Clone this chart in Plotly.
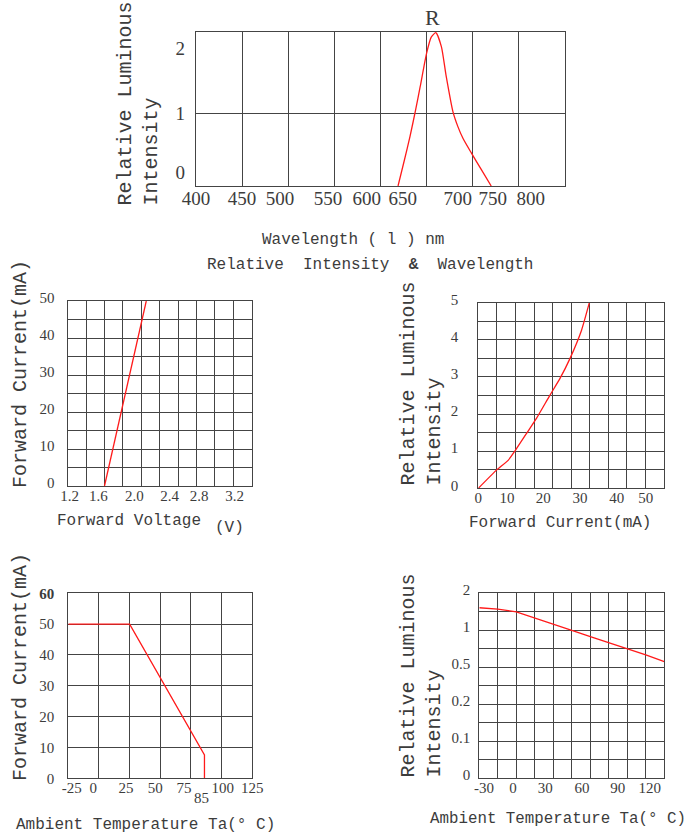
import plotly.graph_objects as go
import numpy as np

W, H = 688, 837

# ---------------- data ----------------
# Chart 1: Relative intensity vs wavelength (R)
wl_nm = [619, 626, 632, 638, 643, 650, 655, 660, 666, 671, 678.5, 684, 689.5, 698.6, 709.5, 720]
wl_rel = [0, 0.36, 0.68, 1.04, 1.36, 1.82, 2.04, 2.10, 1.91, 1.52, 1.02, 0.81, 0.65, 0.45, 0.22, 0]
wl_tick_text = ["400", "450", "500", "550", "600", "650", "700", "750", "800"]
wl_rel_tick_text = ["0", "1", "2"]

# Chart 2: Forward current vs forward voltage
vf_volt = [1.60, 1.83, 2.054]
vf_ma = [0, 25, 50]
vf_tick_text = ["1.2", "1.6", "2.0", "2.4", "2.8", "3.2"]
vf_ma_tick_text = ["0", "10", "20", "30", "40", "50"]

# Chart 3: Relative luminous intensity vs forward current
if_ma = [0, 4.9, 8.1, 9.9, 13.0, 15.7, 19.3, 22.0, 24.7, 27.8, 29.9]
if_rel = [0, 0.49, 0.76, 1.01, 1.48, 1.89, 2.51, 2.96, 3.50, 4.26, 5.0]
if_tick_text = ["0", "10", "20", "30", "40", "50"]
if_rel_tick_text = ["0", "1", "2", "3", "4", "5"]

# Chart 4: Forward current derating vs ambient temperature
ta_c = [-25, 25, 86, 86]
ta_ma = [50, 50, 7.6, 0]
ta_tick_text = ["-25", "0", "25", "50", "75", "100", "125"]
ta_ma_tick_text = ["0", "10", "20", "30", "40", "50", "<b>60</b>"]

# Chart 5: Relative luminous intensity vs ambient temperature
tr_c = [-30, -15, 0, 15, 30, 45, 60, 75, 90, 105, 120]
tr_rel = [1.61, 1.57, 1.50, 1.34, 1.16, 1.00, 0.914, 0.833, 0.748, 0.667, 0.577]
tr_tick_text = ["-30", "0", "30", "60", "90", "120"]
tr_rel_tick_values = [0, 0.1, 0.2, 0.5, 1, 2]
tr_rel_tick_text = ["0", "0.1", "0.2", "0.5", "1", "2"]

# ---------------- layout helpers ----------------
GRID = "#444444"
TXT = "#3c3c3c"
RED = "#ff1a1a"
MONO = "Liberation Mono"
SERIF = "Liberation Serif"


def dom_x(a, b):
    return [a / W, b / W]


def dom_y(top, bottom):
    return [1 - bottom / H, 1 - top / H]


def xax(domain, rng, tickvals, ticktext, tick0, dtick, anchor, size=15, standoff=-4, shift=0, minor_vals=None):
    minor = dict(showgrid=True, gridcolor=GRID, gridwidth=1.3, ticks="")
    if minor_vals is not None:
        minor.update(tickmode="array", tickvals=minor_vals)
    else:
        minor.update(tickmode="linear", tick0=tick0, dtick=dtick)
    return dict(domain=domain, range=rng, anchor=anchor, tickmode="array",
                tickvals=tickvals, ticktext=ticktext, showgrid=False, zeroline=False,
                showline=True, mirror=True, linecolor=GRID, linewidth=1.3, ticks="",
                ticklabelstandoff=standoff, ticklabelshift=shift, automargin=False,
                tickfont=dict(family=SERIF, size=size, color=TXT), minor=minor,
                fixedrange=True)


fig = go.Figure()

# chart 1
fig.add_trace(go.Scatter(x=wl_nm, y=wl_rel, mode="lines", line=dict(color=RED, width=1.3, shape="spline", smoothing=0.6),
                         xaxis="x", yaxis="y", showlegend=False, hoverinfo="skip"))
# chart 2
fig.add_trace(go.Scatter(x=vf_volt, y=vf_ma, mode="lines", line=dict(color=RED, width=1.3),
                         xaxis="x2", yaxis="y2", showlegend=False, hoverinfo="skip"))
# chart 3
fig.add_trace(go.Scatter(x=if_ma, y=if_rel, mode="lines", line=dict(color=RED, width=1.3, shape="spline", smoothing=0.5),
                         xaxis="x3", yaxis="y3", showlegend=False, hoverinfo="skip"))
# chart 4
fig.add_trace(go.Scatter(x=ta_c, y=ta_ma, mode="lines", line=dict(color=RED, width=1.3),
                         xaxis="x4", yaxis="y4", showlegend=False, hoverinfo="skip"))
# chart 5 (non-linear y scale: labelled values are equally spaced)
tr_pos = np.interp(tr_rel, tr_rel_tick_values, list(range(len(tr_rel_tick_values))))
fig.add_trace(go.Scatter(x=tr_c, y=tr_pos, mode="lines", line=dict(color=RED, width=1.3),
                         xaxis="x5", yaxis="y5", showlegend=False, hoverinfo="skip"))

layout = dict(template="none", width=W, height=H, margin=dict(l=0, r=0, t=0, b=0, pad=0), autosize=False,
              paper_bgcolor="white", plot_bgcolor="white", showlegend=False)

# chart 1 axes
layout["xaxis"] = xax(dom_x(196, 565), [400, 800],
                      [400, 449.8, 491.0, 543.0, 585.2, 624.2, 683.8, 721.7, 762.9], wl_tick_text,
                      400, 50, "y", size=19, standoff=-5)
layout["yaxis"] = xax(dom_y(32, 186), [0, 2.11], [0.19, 1.0, 1.88], wl_rel_tick_text,
                      0, 1, "x", size=19, standoff=6, minor_vals=[1])
# chart 2 axes
layout["xaxis2"] = xax(dom_x(67.7, 251.7), [1.2, 3.2],
                       [1.222, 1.533, 1.926, 2.309, 2.629, 3.013], vf_tick_text, 1.2, 0.2, "y2")
layout["yaxis2"] = xax(dom_y(301, 486), [0, 50], [0, 10, 20, 30, 40, 50], vf_ma_tick_text,
                       0, 5, "x2", standoff=9, shift=-3)
# chart 3 axes
layout["xaxis3"] = xax(dom_x(478.3, 664), [0, 50],
                       [0, 7.73, 17.5, 27.38, 37.26, 45.1], if_tick_text, 0, 5, "y3")
layout["yaxis3"] = xax(dom_y(302.7, 488.3), [0, 5], [0, 1, 2, 3, 4, 5], if_rel_tick_text,
                       0, 0.5, "x3", standoff=16, shift=-3)
# chart 4 axes
layout["xaxis4"] = xax(dom_x(68.3, 252.3), [-25, 125],
                       [-22.2, -4.6, 22.0, 45.9, 69.3, 100.9, 125], ta_tick_text, -25, 25, "y4")
layout["yaxis4"] = xax(dom_y(593.3, 778.3), [0, 60], [0, 10, 20, 30, 40, 50, 60], ta_ma_tick_text,
                       0, 10, "x4", standoff=10)
# chart 5 axes
layout["xaxis5"] = xax(dom_x(479.3, 664.3), [-30, 120],
                       [-26.2, -2.7, 23.5, 53.3, 82.2, 108.2], tr_tick_text, -30, 15, "y5")
layout["yaxis5"] = xax(dom_y(593.3, 778.3), [0, 5], [0, 1, 2, 3, 4, 5], tr_rel_tick_text,
                       0, 0.5, "x5", standoff=5, shift=-4)

fig.update_layout(**layout)


def ann(text, x, y, size=16, angle=0, xanchor="center", yanchor="middle", family=MONO, align="center"):
    fig.add_annotation(text=text, x=x / W, y=1 - y / H, xref="paper", yref="paper",
                       showarrow=False, textangle=angle, xanchor=xanchor, yanchor=yanchor,
                       align=align, font=dict(family=family, size=size, color=TXT))


# top chart texts
ann("R", 432, 18, size=22, family=SERIF)
ann("Relative Luminous<br>Intensity", 137.5, 208, size=20, angle=-90, yanchor="bottom", align="left")
ann("Wavelength ( l ) nm", 353, 240)
ann("Relative  Intensity  <b>&</b>  Wavelength", 370, 265)

# chart 2 texts
ann("Forward Current(mA)", 20, 490, size=20, angle=-90, yanchor="bottom")
ann("Forward Voltage", 129, 521)
ann("(V)", 229, 528)

# chart 3 texts
ann("Relative Luminous<br>Intensity", 420.5, 488, size=20, angle=-90, yanchor="bottom", align="left")
ann("Forward Current(mA)", 560, 523)

# chart 4 texts
ann("Forward Current(mA)", 20, 783, size=20, angle=-90, yanchor="bottom")
ann("85", 201, 798, size=15, family=SERIF)
ann("Ambient Temperature Ta(° C)", 145, 825)

# chart 5 texts
ann("Relative Luminous<br>Intensity", 420.5, 780, size=20, angle=-90, yanchor="bottom", align="left")
ann("Ambient Temperature Ta(° C)", 558, 819, size=15.8)

fig.write_html("out.html", config={"displayModeBar": False},
               post_script="document.body.style.margin='0px';")
